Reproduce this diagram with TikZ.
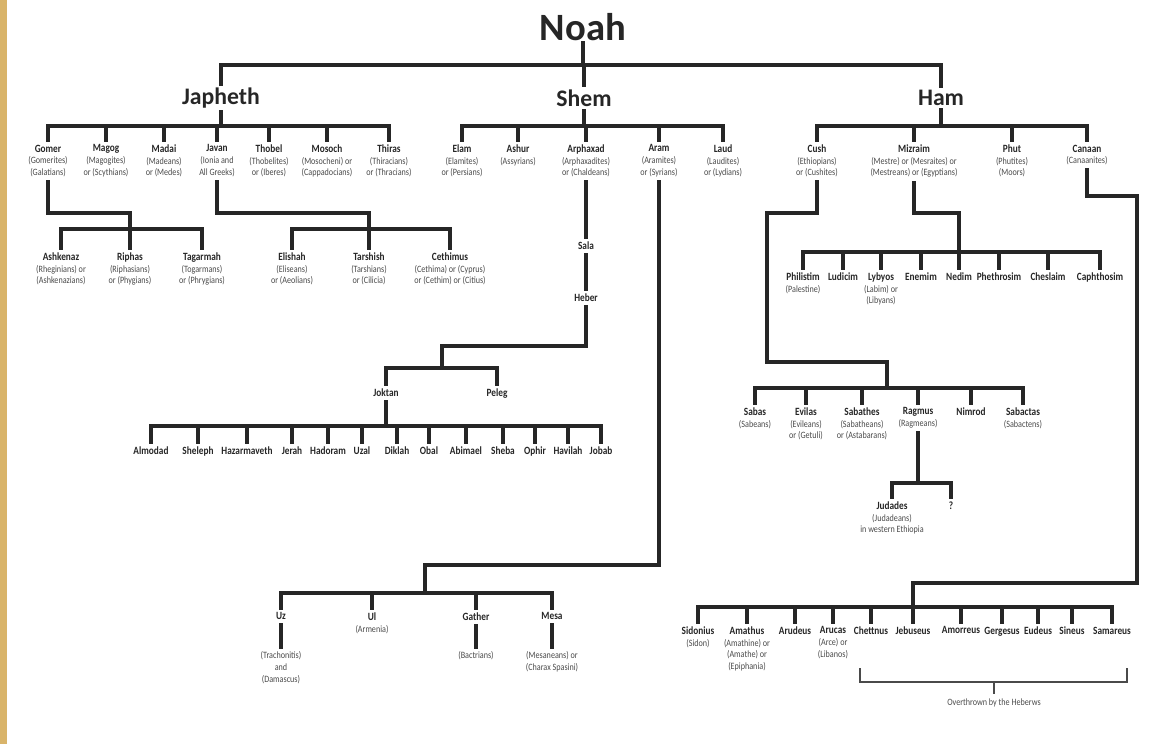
\documentclass[tikz,border=0pt]{standalone}
\usepackage{fontspec}
\setmainfont{Carlito}
\newfontfamily\cond{Carlito}[FakeStretch=0.84]
\definecolor{ink}{HTML}{262626}
\definecolor{muted}{HTML}{4A4A4A}
\definecolor{sand}{HTML}{D9B46A}
\newcommand{\nm}[1]{{\fontsize{6.3}{7.2}\selectfont\bfseries\color{ink}#1}}

\begin{document}
\begin{tikzpicture}[x=0.02cm, y=-0.02cm,
    kin/.style={anchor=north, align=center, inner sep=2.5pt, text=muted, font=\cond\fontsize{5.5}{6.6}\selectfont},
    branch/.style={font=\fontsize{13.5}{15}\selectfont\bfseries, text=ink, inner sep=2pt},
    link/.style={draw=ink, line width=1.8pt, line cap=rect},
    brace/.style={draw=muted, line width=0.9pt}]
\useasboundingbox (0,0) rectangle (1151,744);
\fill[sand] (0,0) rectangle (7,744);

% sons of Noah
\node[font=\fontsize{22}{24}\selectfont\bfseries, text=ink, inner sep=1pt] (noah) at (583,27) {Noah};
\node[branch] (japheth) at (221,98) {Japheth};
\node[branch] (shem) at (584,98) {Shem};
\node[branch] (ham) at (941,98) {Ham};
\coordinate (top) at (0,65);
\draw[link] (noah.south) -- (noah.south|-top);
\draw[link] (japheth.north|-top) -- (ham.north|-top);
\foreach \n in {japheth,shem,ham} \draw[link] (\n.north|-top) -- (\n.north);

% Japheth
\node[kin] (gomer) at (48,140) {\nm{Gomer}\\(Gomerites)\\(Galatians)};
\node[kin] (magog) at (106,140) {\nm{Magog}\\(Magogites)\\or (Scythians)};
\node[kin] (madai) at (164,140) {\nm{Madai}\\(Madeans)\\or (Medes)};
\node[kin] (javan) at (217,140) {\nm{Javan}\\(Ionia and\\All Greeks)};
\node[kin] (thobel) at (269,140) {\nm{Thobel}\\(Thobelites)\\or (Iberes)};
\node[kin] (mosoch) at (327,140) {\nm{Mosoch}\\(Mosocheni) or\\(Cappadocians)};
\node[kin] (thiras) at (389,140) {\nm{Thiras}\\(Thiracians)\\or (Thracians)};
\coordinate (jbar) at (0,126);
\draw[link] (japheth.south) -- (japheth.south|-jbar);
\draw[link] (gomer.north|-jbar) -- (thiras.north|-jbar);
\foreach \n in {gomer,magog,madai,javan,thobel,mosoch,thiras} \draw[link] (\n.north|-jbar) -- (\n.north);

\node[kin] (ashkenaz) at (61,248) {\nm{Ashkenaz}\\(Rheginians) or\\(Ashkenazians)};
\node[kin] (riphas) at (130,248) {\nm{Riphas}\\(Riphasians)\\or (Phygians)};
\node[kin] (tagarmah) at (202,248) {\nm{Tagarmah}\\(Togarmans)\\or (Phrygians)};
\node[kin] (elishah) at (292,248) {\nm{Elishah}\\(Eliseans)\\or (Aeolians)};
\node[kin] (tarshish) at (369,248) {\nm{Tarshish}\\(Tarshians)\\or (Cilicia)};
\node[kin] (cethimus) at (450,248) {\nm{Cethimus}\\(Cethima) or (Cyprus)\\or (Cethim) or (Citius)};
\coordinate (gturn) at (0,213);
\coordinate (gbar) at (0,229);
\draw[link] (gomer.south) |- (riphas.north|-gturn) -- (riphas.north);
\draw[link] (javan.south) |- (tarshish.north|-gturn) -- (tarshish.north);
\draw[link] (ashkenaz.north|-gbar) -- (tagarmah.north|-gbar);
\draw[link] (elishah.north|-gbar) -- (cethimus.north|-gbar);
\foreach \n in {ashkenaz,tagarmah,elishah,cethimus} \draw[link] (\n.north|-gbar) -- (\n.north);

% Shem
\node[kin] (elam) at (462,140) {\nm{Elam}\\(Elamites)\\or (Persians)};
\node[kin] (ashur) at (518,140) {\nm{Ashur}\\(Assyrians)};
\node[kin] (arphaxad) at (586,140) {\nm{Arphaxad}\\(Arphaxadites)\\or (Chaldeans)};
\node[kin] (aram) at (659,140) {\nm{Aram}\\(Aramites)\\or (Syrians)};
\node[kin] (laud) at (723,140) {\nm{Laud}\\(Laudites)\\or (Lydians)};
\draw[link] (shem.south) -- (shem.south|-jbar);
\draw[link] (elam.north|-jbar) -- (laud.north|-jbar);
\foreach \n in {elam,ashur,arphaxad,aram,laud} \draw[link] (\n.north|-jbar) -- (\n.north);

\node[kin] (sala) at (586,237) {\nm{Sala}};
\node[kin] (heber) at (586,289) {\nm{Heber}};
\draw[link] (arphaxad.south) -- (sala.north);
\draw[link] (sala.south) -- (heber.north);

\node[kin] (joktan) at (386,384) {\nm{Joktan}};
\node[kin] (peleg) at (497,384) {\nm{Peleg}};
\coordinate (hturn) at (0,346);
\coordinate (hjoin) at (442,368);
\draw[link] (heber.south) |- (hjoin|-hturn) -- (hjoin);
\draw[link] (joktan.north|-hjoin) -- (peleg.north|-hjoin);
\foreach \n in {joktan,peleg} \draw[link] (\n.north|-hjoin) -- (\n.north);

\foreach \n/\x in {Almodad/151,Sheleph/198,Hazarmaveth/247,Jerah/292,Hadoram/328,Uzal/362,Diklah/397,Obal/429,Abimael/466,Sheba/503,Ophir/535,Havilah/568,Jobab/601}
  \node[kin] (\n) at (\x,442) {\nm{\n}};
\coordinate (kbar) at (0,426);
\draw[link] (joktan.south) -- (joktan.south|-kbar);
\draw[link] (Almodad.north|-kbar) -- (Jobab.north|-kbar);
\foreach \n in {Almodad,Sheleph,Hazarmaveth,Jerah,Hadoram,Uzal,Diklah,Obal,Abimael,Sheba,Ophir,Havilah,Jobab}
  \draw[link] (\n.north|-kbar) -- (\n.north);

\node[kin] (uz) at (281,608) {\nm{Uz}};
\node[kin] (ul) at (372,608) {\nm{Ul}\\(Armenia)};
\node[kin] (gather) at (476,608) {\nm{Gather}};
\node[kin] (mesa) at (552,608) {\nm{Mesa}};
\node[kin] (uzp) at (281,647) {(Trachonitis)\\and\\(Damascus)};
\node[kin] (gatherp) at (476,647) {(Bactrians)};
\node[kin] (mesap) at (552,647) {(Mesaneans) or\\(Charax Spasini)};
\coordinate (aturn) at (0,565);
\coordinate (ajoin) at (425,593);
\draw[link] (aram.south) |- (ajoin|-aturn) -- (ajoin);
\draw[link] (uz.north|-ajoin) -- (mesa.north|-ajoin);
\foreach \n in {uz,ul,gather,mesa} \draw[link] (\n.north|-ajoin) -- (\n.north);
\draw[link] (uz.south) -- (uzp.north);
\draw[link] (gather.south) -- (gatherp.north);
\draw[link] (mesa.south) -- (mesap.north);

% Ham
\node[kin] (cush) at (817,140) {\nm{Cush}\\(Ethiopians)\\or (Cushites)};
\node[kin] (mizraim) at (914,140) {\nm{Mizraim}\\(Mestre) or (Mesraites) or\\(Mestreans) or (Egyptians)};
\node[kin] (phut) at (1012,140) {\nm{Phut}\\(Phutites)\\(Moors)};
\node[kin] (canaan) at (1087,140) {\nm{Canaan}\\(Canaanites)};
\draw[link] (ham.south) -- (ham.south|-jbar);
\draw[link] (cush.north|-jbar) -- (canaan.north|-jbar);
\foreach \n in {cush,mizraim,phut,canaan} \draw[link] (\n.north|-jbar) -- (\n.north);

\foreach \n/\x/\t in {philistim/803/{\nm{Philistim}\\(Palestine)},ludicim/843/{\nm{Ludicim}},lybyos/881/{\nm{Lybyos}\\(Labim) or\\(Libyans)},enemim/921/{\nm{Enemim}},nedim/959/{\nm{Nedim}},phethrosim/999/{\nm{Phethrosim}},cheslaim/1048/{\nm{Cheslaim}},caphthosim/1100/{\nm{Caphthosim}}}
  \node[kin] (\n) at (\x,268) {\t};
\coordinate (mjoin) at (959,252);
\draw[link] (mizraim.south) |- (mjoin|-gturn) -- (mjoin);
\draw[link] (philistim.north|-mjoin) -- (caphthosim.north|-mjoin);
\foreach \n in {philistim,ludicim,lybyos,enemim,nedim,phethrosim,cheslaim,caphthosim} \draw[link] (\n.north|-mjoin) -- (\n.north);

\node[kin] (sabas) at (755,403) {\nm{Sabas}\\(Sabeans)};
\node[kin] (evilas) at (806,403) {\nm{Evilas}\\(Evileans)\\or (Getuli)};
\node[kin] (sabathes) at (862,403) {\nm{Sabathes}\\(Sabatheans)\\or (Astabarans)};
\node[kin] (ragmus) at (918,403) {\nm{Ragmus}\\(Ragmeans)};
\node[kin] (nimrod) at (971,403) {\nm{Nimrod}};
\node[kin] (sabactas) at (1023,403) {\nm{Sabactas}\\(Sabactens)};
\coordinate (cturn) at (767,213);
\coordinate (cturn2) at (0,362);
\coordinate (cjoin) at (887,388);
\draw[link] (cush.south) |- (cturn) |- (cjoin|-cturn2) -- (cjoin);
\draw[link] (sabas.north|-cjoin) -- (sabactas.north|-cjoin);
\foreach \n in {sabas,evilas,sabathes,ragmus,nimrod,sabactas} \draw[link] (\n.north|-cjoin) -- (\n.north);

\node[kin] (judades) at (892,497) {\nm{Judades}\\(Judadeans)\\in western Ethiopia};
\node[kin] (unknown) at (951,497) {\nm{?}};
\coordinate (rbar) at (0,483);
\draw[link] (ragmus.south) -- (ragmus.south|-rbar);
\draw[link] (judades.north|-rbar) -- (unknown.north|-rbar);
\foreach \n in {judades,unknown} \draw[link] (\n.north|-rbar) -- (\n.north);

\foreach \n/\x/\t in {sidonius/698/{\nm{Sidonius}\\(Sidon)},amathus/747/{\nm{Amathus}\\(Amathine) or\\(Amathe) or\\(Epiphania)},arudeus/795/{\nm{Arudeus}},arucas/833/{\nm{Arucas}\\(Arce) or\\(Libanos)},chettnus/871/{\nm{Chettnus}},jebuseus/913/{\nm{Jebuseus}},amorreus/961/{\nm{Amorreus}},gergesus/1002/{\nm{Gergesus}},eudeus/1038/{\nm{Eudeus}},sineus/1072/{\nm{Sineus}},samareus/1112/{\nm{Samareus}}}
  \node[kin] (\n) at (\x,622) {\t};
\coordinate (nturn) at (1137,196);
\coordinate (nturn2) at (0,583);
\coordinate (njoin) at (913,607);
\draw[link] (canaan.south) |- (nturn) |- (njoin|-nturn2) -- (njoin);
\draw[link] (sidonius.north|-njoin) -- (samareus.north|-njoin);
\foreach \n in {sidonius,amathus,arudeus,arucas,chettnus,jebuseus,amorreus,gergesus,eudeus,sineus,samareus} \draw[link] (\n.north|-njoin) -- (\n.north);

% bracket under the conquered tribes
\node[kin, anchor=center] (over) at (994,703) {Overthrown by the Heberws};
\coordinate (bl) at (860,668);
\coordinate (br) at (1127,668);
\coordinate (bbar) at (0,682);
\draw[brace] (bl) |- (over.north|-bbar) -| (br);
\draw[brace] (over.north|-bbar) -- (over.north);
\end{tikzpicture}
\end{document}
